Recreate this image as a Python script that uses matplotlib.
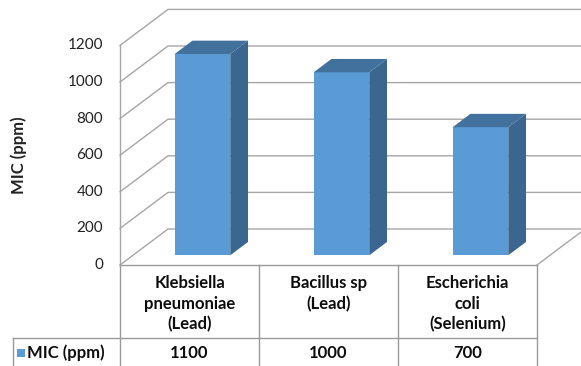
import matplotlib
matplotlib.use("Agg")
import matplotlib.pyplot as plt
from matplotlib.patches import Polygon, Rectangle

plt.rcParams['font.family'] = ['Lato', 'DejaVu Sans']

# data
categories = ["Klebsiella\npneumoniae\n(Lead)", "Bacillus sp\n(Lead)", "Escherichia\ncoli\n(Selenium)"]
mic_values = [1100, 1000, 700]
table_values = ["1100", "1000", "700"]
series_name = "MIC (ppm)"
yticks = [0, 200, 400, 600, 800, 1000, 1200]

# layout (pixels of a 581x366 image)
W, H = 581, 366
X0 = 120      # px of front left corner
CW = 139      # px per category
Y0 = 265      # px of value 0 on front plane
S = 0.183     # px per ppm
DX = 48 / CW  # depth offset in category units
DY = 36 / S   # depth offset in ppm units

front = '#5b9bd5'
top_c = '#41719c'
side_c = '#3a6690'
grid_c = '#a6a6a6'
tbl_c = '#9a9a9a'
txt_c = '#0d0d0d'
FS = 11
FB = 12

fig = plt.figure(figsize=(W / 100, H / 100), dpi=100)
ax = fig.add_axes([0, 0, 1, 1])
ax.set_xlim(-X0 / CW, (W - X0) / CW)
ax.set_ylim((Y0 - H) / S, Y0 / S)
ax.axis('off')

XR = (W - X0) / CW + 1  # past the right edge

# walls + gridlines
for v in yticks:
    ax.plot([0, DX, XR], [v, v + DY, v + DY], color=grid_c, lw=1, zorder=1)
    ax.text(-17 / CW, v, str(v), ha='right', va='center', fontsize=FS, color='#222222')
ax.plot([0, 0], [0, yticks[-1]], color=grid_c, lw=1, zorder=1)
# floor
ax.plot([3, 3 + DX], [0, DY], color=grid_c, lw=1, zorder=1)

ax.text(-101 / CW, yticks[-1] / 2, series_name, rotation=90, ha='center', va='center',
        fontsize=FB, fontweight='bold', color='#222222')

# bars
bw = 0.40
d0, d1 = 0.27, 0.64
for i, v in enumerate(mic_values):
    xl = i + 0.5 - bw / 2
    xr = i + 0.5 + bw / 2
    fx, fy = d0 * DX, d0 * DY
    bx, by = d1 * DX, d1 * DY
    ax.add_patch(Polygon([(xl + fx, fy), (xr + fx, fy), (xr + fx, v + fy), (xl + fx, v + fy)],
                         closed=True, fc=front, ec='none', zorder=3))
    ax.add_patch(Polygon([(xr + fx, fy), (xr + bx, by), (xr + bx, v + by), (xr + fx, v + fy)],
                         closed=True, fc=side_c, ec='none', zorder=3))
    ax.add_patch(Polygon([(xl + fx, v + fy), (xr + fx, v + fy), (xr + bx, v + by), (xl + bx, v + by)],
                         closed=True, fc=top_c, ec='none', zorder=3))

# data table
row1 = (Y0 - 338) / S
row2 = (Y0 - 380) / S
xleg = (13 - X0) / CW
ax.plot([0, 3], [0, 0], color=tbl_c, lw=1, zorder=2)
for k in range(4):
    ax.plot([k, k], [0, row2], color=tbl_c, lw=1, zorder=2)
ax.plot([xleg, 3], [row1, row1], color=tbl_c, lw=1, zorder=2)
ax.plot([xleg, xleg], [row1, row2], color=tbl_c, lw=1, zorder=2)

for i, c in enumerate(categories):
    ax.text(i + 0.5, (Y0 - 275) / S, c, ha='center', va='top', fontsize=FB,
            fontweight='bold', linespacing=1.35, color=txt_c)
    ax.text(i + 0.5, (Y0 - 353) / S, table_values[i], ha='center', va='center',
            fontsize=FB, fontweight='bold', color=txt_c)

ax.add_patch(Rectangle(((17 - X0) / CW, (Y0 - 357) / S), 8 / CW, 8 / S, fc=front, ec='none'))
ax.text((27 - X0) / CW, (Y0 - 353) / S, series_name, ha='left', va='center',
        fontsize=FB, fontweight='bold', color=txt_c)

fig.savefig('out.png', dpi=100)
